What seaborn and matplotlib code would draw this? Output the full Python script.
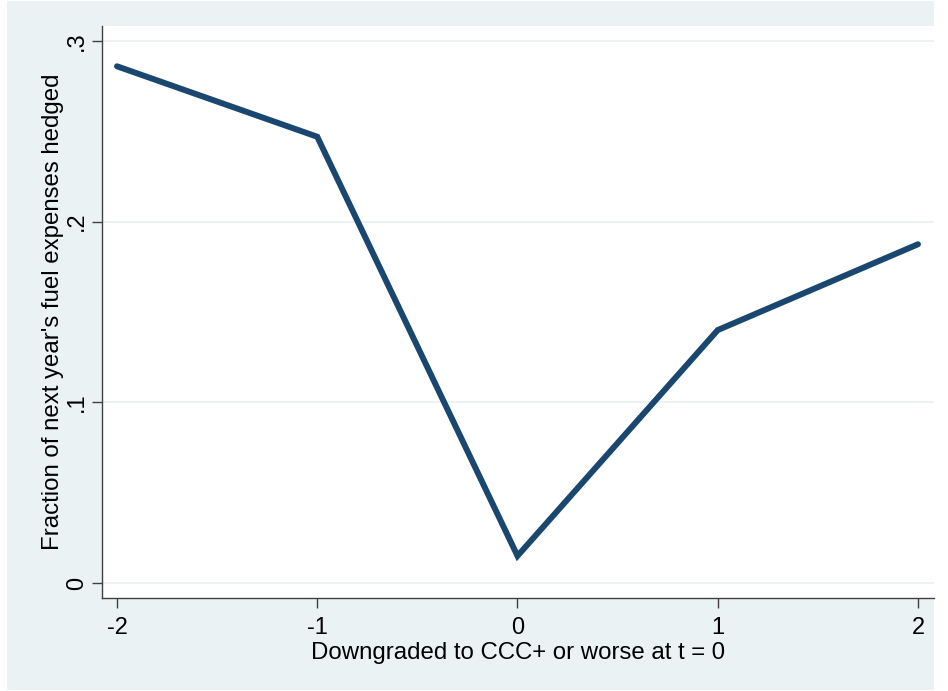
import matplotlib
matplotlib.use("Agg")
import matplotlib.pyplot as plt
from matplotlib.patches import Rectangle
import seaborn as sns
import pandas as pd

# Data
periods = [-2, -1, 0, 1, 2]
frac_hedged = [0.286, 0.247, 0.015, 0.140, 0.1875]
xtick_labels = ["-2", "-1", "0", "1", "2"]
ytick_values = [0, 0.1, 0.2, 0.3]
ytick_labels = ["0", ".1", ".2", ".3"]

df = pd.DataFrame({"t": periods, "frac": frac_hedged})

sns.set_theme(style="white")
plt.rcParams["font.family"] = ["Liberation Sans", "DejaVu Sans"]
plt.rcParams["text.color"] = "black"
plt.rcParams["axes.labelcolor"] = "black"

fig = plt.figure(figsize=(9.48, 6.91), dpi=100, facecolor="white")
W, H = 948, 691
bg = Rectangle((7 / W, 1 - 690 / H), (934 - 7) / W, (690 - 1) / H,
               transform=fig.transFigure, facecolor="#EAF2F3", edgecolor="none", zorder=-10)
fig.patches.append(bg)

ax = fig.add_axes([102 / W, 1 - 598 / H, (934 - 102) / W, (598 - 26) / H])
ax.set_zorder(1)
ax.set_facecolor("white")

sns.lineplot(data=df, x="t", y="frac", ax=ax, color="#1a476f", linewidth=4.3,
             solid_capstyle="round", solid_joinstyle="miter", zorder=3)

ax.set_xlim(-2.075, 2.08)
ax.set_ylim(-0.0083, 0.3083)
ax.set_xticks(periods)
ax.set_xticklabels(xtick_labels, fontsize=17)
ax.set_yticks(ytick_values)
ax.set_yticklabels(ytick_labels, fontsize=17, rotation=90, va="center")

for y in ytick_values:
    ax.axhline(y, color="#EAF2F3", linewidth=1.3, zorder=1)

for side in ["top", "right"]:
    ax.spines[side].set_visible(False)
for side in ["left", "bottom"]:
    ax.spines[side].set_color("#404040")
    ax.spines[side].set_linewidth(1.0)

ax.tick_params(axis="x", direction="out", length=7, width=1, color="#404040",
               labelcolor="black", bottom=True, pad=7)
ax.tick_params(axis="y", direction="out", length=7, width=1, color="#404040",
               labelcolor="black", left=True, pad=3)

ax.set_xlabel("Downgraded to CCC+ or worse at t = 0", fontsize=17.3, labelpad=2, color="black")
ax.set_ylabel("Fraction of next year's fuel expenses hedged", fontsize=17.3, labelpad=1.5, color="black")

fig.savefig("out.png", dpi=100, facecolor="white")
